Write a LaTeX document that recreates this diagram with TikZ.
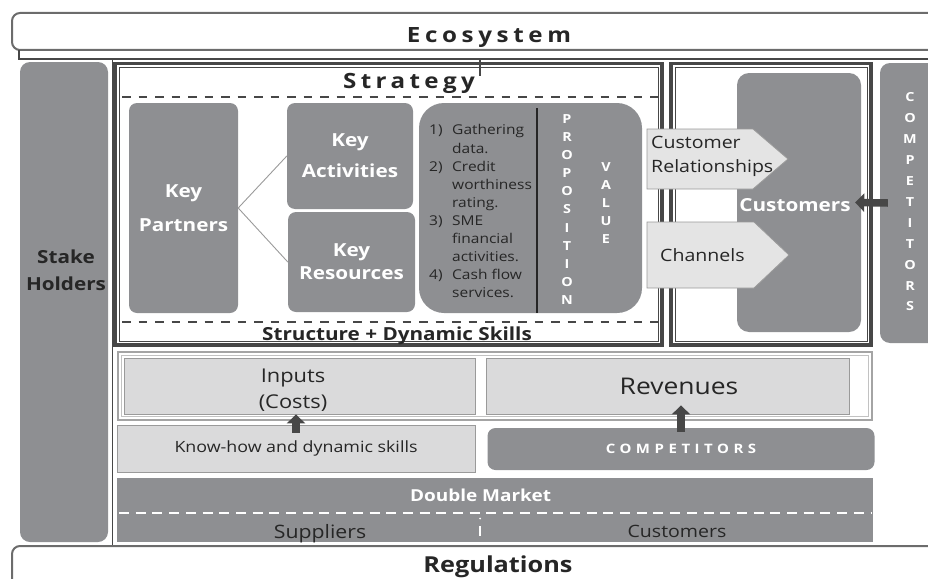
\documentclass[tikz,border=0pt]{standalone}
\usepackage{fontspec}
\setmainfont{Open Sans}[FakeStretch=1.15]
\usetikzlibrary{arrows.meta}

\definecolor{boxgray}{HTML}{8E8F92}
\definecolor{lightfill}{HTML}{DADADB}
\definecolor{tagfill}{HTML}{E4E4E4}
\definecolor{framedark}{HTML}{474747}
\definecolor{inkdark}{HTML}{262626}
\definecolor{edgegray}{HTML}{9A9A9A}

% list items in the value proposition
\newcommand\li[1]{\makebox[23pt][l]{#1}}
\newcommand\cont{\hspace*{23pt}}

\tikzset{
  graybox/.style={fill=boxgray, draw=none, rounded corners=8pt, inner sep=0pt,
    text=white, align=center},
  lightbox/.style={fill=lightfill, draw=edgegray, line width=0.8pt, inner sep=0pt,
    text=inkdark, align=center},
  tagshape/.style={fill=tagfill, draw=edgegray, line width=0.8pt},
  fatarrow/.style={draw=framedark, line width=7.5pt, -{Triangle[width=18pt,length=9pt]}},
  vletter/.style={text=white, inner sep=0pt, font=\bfseries\fontsize{12.5}{12}\selectfont},
  lbl/.style={inner sep=0pt, text=inkdark, align=center},
}

\begin{document}
\begin{tikzpicture}[x=1pt, y=-1pt]
\useasboundingbox (0,0) rectangle (928,578);
\clip (0,0) rectangle (928,578);

% Ecosystem bar
\draw[framedark!80, line width=2pt, rounded corners=8pt] (12,13) rectangle (945,50);
\draw[framedark, line width=2pt] (19,50) -- (19,59) -- (945,59);
\draw[framedark, line width=1.8pt] (480,59) -- (480,76);
\node[lbl, anchor=base, font=\bfseries\fontsize{21}{25}\selectfont\addfontfeature{LetterSpace=22}]
  (eco) at (489,42) {Ecosystem};

% Stake holders column
\draw[framedark, line width=0.8pt] (112,59) -- (112,546);
\node[graybox, rounded corners=10pt, minimum width=88pt, minimum height=480pt] (stake) at (64,302) {};
\node[lbl, font=\bfseries\fontsize{18}{27}\selectfont] (shlbl) at (66,270) {Stake\\Holders};

% Strategy frame
\draw[framedark, line width=3.8pt] (115,63.5) rectangle (662,345);
\draw[framedark, line width=0.6pt] (118.8,67.3) rectangle (658.2,341.2);
\node[lbl, anchor=base, font=\bfseries\fontsize{21}{25}\selectfont\addfontfeature{LetterSpace=21}]
  (strat) at (409,88) {Strategy};
\draw[framedark, line width=1.8pt, dash pattern=on 8.5pt off 8pt] (122,97) -- (658,97);
\draw[framedark, line width=1.8pt, dash pattern=on 8.5pt off 8pt] (122,322) -- (658,322);
\node[lbl, anchor=base, font=\bfseries\fontsize{18}{22}\selectfont] (structlbl) at (397,340) {Structure + Dynamic Skills};

% Key blocks
\node[graybox, minimum width=109pt, minimum height=210pt, font=\bfseries\fontsize{18}{34}\selectfont]
  (kp) at (183.5,208) {Key\\Partners};
\node[graybox, minimum width=126pt, minimum height=106pt, font=\bfseries\fontsize{18}{31}\selectfont]
  (ka) at (350,156) {Key\\Activities};
\node[graybox, minimum width=127pt, minimum height=100pt, font=\bfseries\fontsize{18}{23}\selectfont]
  (kr) at (351.5,262) {Key\\Resources};
\draw[edgegray, line width=0.9pt] (kp.east) -- (ka.west);
\draw[edgegray, line width=0.9pt] (kp.east) -- (kr.west);

% Value proposition
\node[graybox, rounded corners=25pt, minimum width=223pt, minimum height=210pt] (vp) at (530.5,208) {};
\draw[inkdark, line width=1.2pt] (537,108) -- (537,313);
\node[lbl, anchor=north west, align=left, font=\fontsize{13.5}{18.1}\selectfont] (vplist) at (429,124.5)
  {\li{1)}Gathering\\
   \cont data.\\
   \li{2)}Credit\\
   \cont worthiness\\
   \cont rating.\\
   \li{3)}SME\\
   \cont financial\\
   \cont activities.\\
   \li{4)}Cash flow\\
   \cont services.};
\foreach \ch [count=\i from 0] in {P,R,O,P,O,S,I,T,I,O,N}
  \node[vletter] (prop\i) at (567,{119+18.1*\i}) {\ch};
\foreach \ch [count=\i from 0] in {V,A,L,U,E}
  \node[vletter] (val\i) at (606,{167.5+17.9*\i}) {\ch};

% Customer frame
\draw[framedark, line width=3.8pt] (671,63.5) rectangle (871,345);
\draw[framedark, line width=0.6pt] (674.8,67.3) rectangle (867.2,341.2);
\node[graybox, rounded corners=12pt, minimum width=124pt, minimum height=259pt] (cust) at (799,202.5) {};
\node[lbl, text=white, font=\bfseries\fontsize{18}{22}\selectfont] (custlbl) at (795,205.5) {Customers};

% Relationship and channel tags
\draw[tagshape] (647,129) -- (753,129) -- (788,159) -- (753,189) -- (647,189) -- cycle;
\node[lbl, anchor=north west, align=left, font=\fontsize{17}{24}\selectfont] (crel) at (651,135.5)
  {Customer\\Relationships};
\draw[tagshape] (647,222) -- (754,222) -- (789,255) -- (754,288) -- (647,288) -- cycle;
\node[lbl, anchor=west, font=\fontsize{17}{22}\selectfont] (chan) at (660,255.5) {Channels};

% Competitors column
\node[graybox, rounded corners=10pt, minimum width=65pt, minimum height=280pt] (compbar) at (912.5,203) {};
\foreach \ch [count=\i from 0] in {C,O,M,P,E,T,I,T,O,R,S}
  \node[vletter] (cmp\i) at (910,{97.5+20.9*\i}) {\ch};
\draw[fatarrow] ([xshift=8pt]compbar.west) -- ([xshift=-6pt]cust.east);

% Costs and revenues
\draw[edgegray!90, line width=2pt] (118,352) rectangle (872,420);
\draw[edgegray!60, line width=0.8pt] (121.5,355.5) rectangle (868.5,416.5);
\node[lightbox, minimum width=351pt, minimum height=56pt] (inputs) at (299.5,386) {};
\node[lbl, font=\fontsize{19}{26}\selectfont] (inlbl) at (293,390) {Inputs\\(Costs)};
\node[lightbox, minimum width=363pt, minimum height=56pt] (revenues) at (667.5,386) {};
\node[lbl, font=\fontsize{23}{26}\selectfont] (revlbl) at (679,386) {Revenues};

\node[lightbox, minimum width=358pt, minimum height=47pt, font=\fontsize{15.5}{18}\selectfont]
  (knowhow) at (296,448.5) {Know-how and dynamic skills};
\node[graybox, minimum width=387pt, minimum height=42pt,
  font=\bfseries\fontsize{13}{15}\selectfont\addfontfeature{LetterSpace=35}]
  (comp) at (681,449) {COMPETITORS};
\draw[fatarrow] ([yshift=-8pt]knowhow.north) -- (knowhow.north |- inputs.south);
\draw[fatarrow] ([yshift=-4pt]comp.north) -- ([yshift=9pt]comp.north |- revenues.south);

% Double market
\node[graybox, rounded corners=0pt, minimum width=756pt, minimum height=64pt] (dmarket) at (495,510) {};
\node[lbl, text=white, anchor=base, font=\bfseries\fontsize{16.5}{20}\selectfont] (dmlbl) at (480.5,501) {Double Market};
\draw[white, line width=2pt, dash pattern=on 10pt off 6.7pt] (119,513) -- (872,513);
\draw[white, line width=2pt] (480,526) -- (480,536);
\fill[white] (480,518.5) circle (1pt);
\node[lbl, anchor=base, font=\fontsize{18.5}{22}\selectfont] (suplbl) at (320,538) {Suppliers};
\node[lbl, anchor=base, font=\fontsize{17}{22}\selectfont] (cuslbl) at (677,537) {Customers};

% Regulations bar
\draw[framedark!80, line width=2pt, rounded corners=8pt] (12,546) rectangle (945,600);
\node[lbl, anchor=base, font=\bfseries\fontsize{22}{26}\selectfont] (reglbl) at (498,572) {Regulations};

\end{tikzpicture}
\end{document}
